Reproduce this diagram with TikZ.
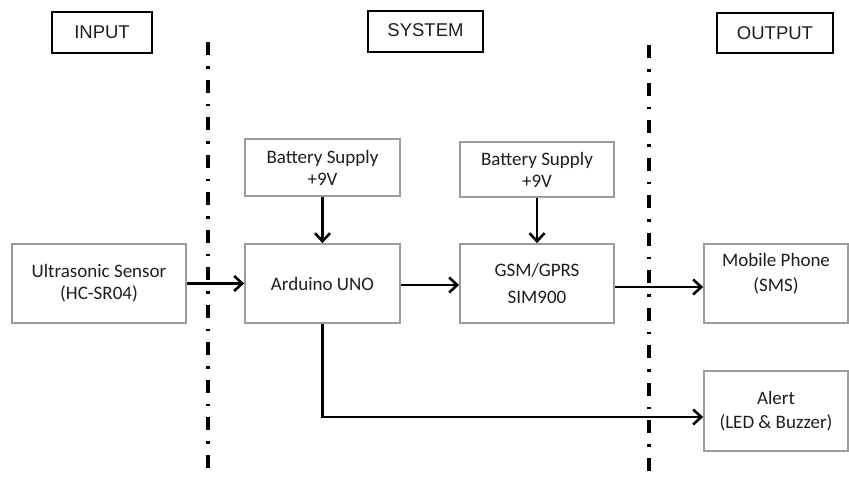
\documentclass[tikz,border=0pt]{standalone}
\usepackage{fontspec}
\setmainfont{Carlito}
\newfontfamily\hdrfont{Liberation Sans}
\usetikzlibrary{arrows.meta}
\definecolor{boxgray}{HTML}{9C9C9C}
\definecolor{txtcol}{HTML}{1E1E1E}
\tikzset{
  hdr/.style={draw=black, line width=2.8pt, fill=white, inner sep=0pt,
    font=\hdrfont\fontsize{18.5}{22}\selectfont, text=txtcol},
  blk/.style={draw=boxgray, line width=1.8pt, fill=white, inner sep=0pt, align=center,
    font=\fontsize{19}{25}\selectfont, text=txtcol},
  lbl/.style={inner sep=0pt, align=center, font=\fontsize{19}{25}\selectfont, text=txtcol},
  arr/.style={line width=2.8pt, -{Straight Barb[length=8pt,width=15pt,line width=2.6pt]}},
  sepline/.style={line width=3.2pt, dash pattern=on 13pt off 11pt on 2.5pt off 11pt}
}
\begin{document}
\begin{tikzpicture}[x=1pt,y=-1pt]
\useasboundingbox (0,0) rectangle (849,477);
% separators
\coordinate (d1t) at (208,42);
\coordinate (d1b) at (208,477);
\coordinate (d2t) at (649,45);
\coordinate (d2b) at (649,477);
\draw[sepline] (d1t) -- (d1b);
\draw[sepline] (d2t) -- (d2b);
% headers
\node[hdr, minimum width=100pt, minimum height=41pt] (inp) at (102,32.5) {INPUT};
\node[hdr, minimum width=115pt, minimum height=41pt] (sys) at (425.5,31.5) {\raisebox{2pt}{SYSTEM}};
\node[hdr, minimum width=116pt, minimum height=40pt] (out) at (775,33) {OUTPUT};
% blocks
\node[blk, minimum width=174pt, minimum height=79pt] (sen) at (99,283.5) {Ultrasonic Sensor\\[-3pt](HC-SR04)};
\node[blk, minimum width=155pt, minimum height=57pt] (bat1) at (322.5,167.5) {\raisebox{-3pt}{\parbox{150pt}{\centering Battery Supply\\[-3pt]+9V}}};
\node[blk, minimum width=155pt, minimum height=79pt] (ard) at (322.5,283.5) {Arduino UNO};
\node[blk, minimum width=154pt, minimum height=55pt] (bat2) at (537,169.5) {\raisebox{-2pt}{\parbox{150pt}{\centering Battery Supply\\[-3pt]+9V}}};
\node[blk, minimum width=154pt, minimum height=79pt] (gsm) at (537,283.5) {GSM/GPRS\\[2pt]SIM900};
\node[blk, minimum width=144pt, minimum height=79pt] (mob) at (776,283.5) {};
\node[lbl] (mobt) at (776,274) {Mobile Phone\\(SMS)};
\node[blk, minimum width=144pt, minimum height=80pt] (alert) at (776,411) {Alert\\[-1pt](LED \& Buzzer)};
% connectors
\draw[arr] (sen) -- (ard);
\draw[arr] (bat1) -- (ard);
\draw[arr] (bat2) -- (gsm);
\draw[arr] ([yshift=-1.5pt]ard.east) -- ([yshift=-1.5pt]gsm.west);
\draw[arr] ([yshift=-3.5pt]gsm.east) -- ([yshift=-3.5pt]mob.west);
\draw[arr] (ard.south) |- ([yshift=-6pt]alert.west);
\end{tikzpicture}
\end{document}
